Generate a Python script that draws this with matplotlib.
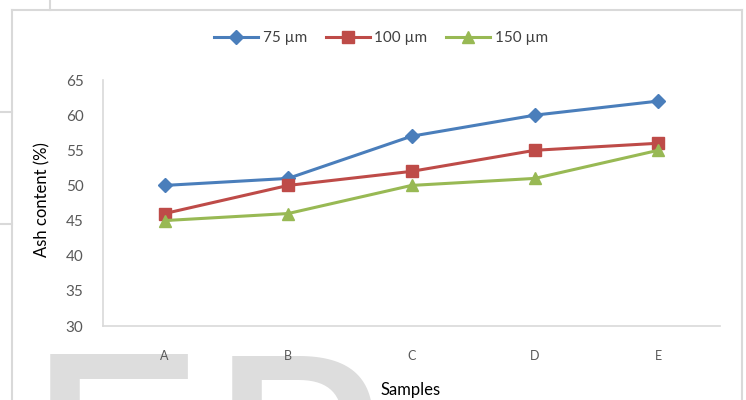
import matplotlib
matplotlib.use("Agg")
import matplotlib.pyplot as plt
from matplotlib.lines import Line2D

plt.rcParams['font.family'] = ['Lato', 'DejaVu Sans']

samples = ["A", "B", "C", "D", "E"]
s75 = [50, 51, 57, 60, 62]
s100 = [46, 50, 52, 55, 56]
s150 = [45, 46, 50, 51, 55]
series_labels = ["75 µm", "100 µm", "150 µm"]
yticks = [30, 35, 40, 45, 50, 55, 60, 65]

W, H = 746, 400
fig = plt.figure(figsize=(W / 100, H / 100), dpi=100)
fig.patch.set_facecolor("white")

def fx(px):
    return px / W

def fy(py):
    return 1 - py / H

# watermark
fig.text(fx(21), fy(345), "E", fontsize=215, color="#dddddd", ha="left", va="top",
         family="DejaVu Sans", zorder=0)
fig.text(fx(203), fy(345), "R", fontsize=215, color="#dddddd", ha="left", va="top",
         family="DejaVu Sans", zorder=0)

# page / chart border lines
border = "#d9d9d9"
fig.add_artist(Line2D([fx(12), fx(12)], [fy(10), fy(400)], color=border, lw=1.5))
fig.add_artist(Line2D([fx(12), fx(742)], [fy(10), fy(10)], color=border, lw=1.5))
fig.add_artist(Line2D([fx(742), fx(742)], [fy(10), fy(400)], color=border, lw=1.5))
fig.add_artist(Line2D([fx(50), fx(50)], [fy(0), fy(10)], color=border, lw=1.5))
fig.add_artist(Line2D([fx(0), fx(12)], [fy(112), fy(112)], color=border, lw=1.5))
fig.add_artist(Line2D([fx(0), fx(12)], [fy(224), fy(224)], color=border, lw=1.5))

ax = fig.add_axes([fx(103), fy(326), fx(720) - fx(103), fy(80) - fy(326)])
ax.set_facecolor("white")
ax.set_zorder(2)

x = list(range(len(samples)))
ax.plot(x, s75, color="#4a7ebb", lw=2.2, marker="D", ms=7.5, label=series_labels[0])
ax.plot(x, s100, color="#be4b48", lw=2.2, marker="s", ms=8.5, label=series_labels[1])
ax.plot(x, s150, color="#98b954", lw=2.2, marker="^", ms=9, label=series_labels[2])

ax.set_xlim(-0.5, len(samples) - 0.5)
ax.set_ylim(30, 65)
ax.set_yticks(yticks)
ax.set_xticks(x)
ax.set_xticklabels(samples)
ax.tick_params(axis="y", length=0, pad=14, labelsize=11, labelcolor="#595959")
ax.tick_params(axis="x", length=0, pad=17, labelsize=9, labelcolor="#595959")
for s in ["top", "right"]:
    ax.spines[s].set_visible(False)
for s in ["left", "bottom"]:
    ax.spines[s].set_color("#d9d9d9")
    ax.spines[s].set_linewidth(1.2)

fig.text(fx(42), fy(200), "Ash content (%)", rotation=90, ha="center", va="center",
         fontsize=12, color="black")
fig.text(fx(411), fy(390), "Samples", ha="center", va="center", fontsize=12, color="black")

leg = fig.legend(loc="center", bbox_to_anchor=(fx(381), fy(38)), ncol=3, frameon=False,
                 fontsize=11, handlelength=2.9, columnspacing=1.2, handletextpad=0.3,
                 labelcolor="#404040")

fig.savefig("out.png", dpi=100, facecolor="white")
